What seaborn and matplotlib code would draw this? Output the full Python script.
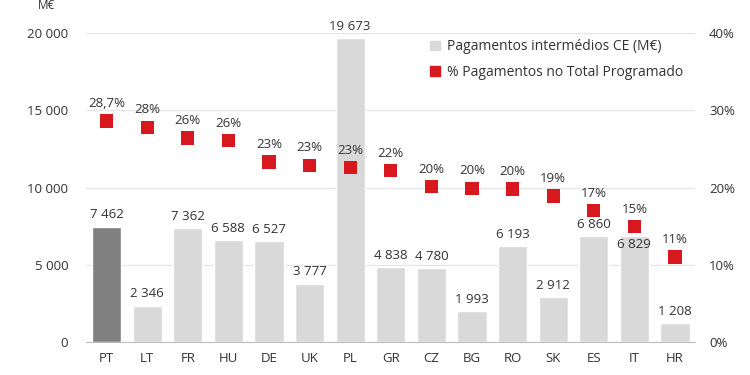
import pandas as pd
import matplotlib.pyplot as plt
import seaborn as sns
from matplotlib.patches import Patch

# Data
countries = ["PT", "LT", "FR", "HU", "DE", "UK", "PL", "GR", "CZ", "BG", "RO", "SK", "ES", "IT", "HR"]
payments = [7462, 2346, 7362, 6588, 6527, 3777, 19673, 4838, 4780, 1993, 6193, 2912, 6860, 6829, 1208]
payment_labels = ["7 462", "2 346", "7 362", "6 588", "6 527", "3 777", "19 673", "4 838",
                  "4 780", "1 993", "6 193", "2 912", "6 860", "6 829", "1 208"]
pct = [28.6, 27.8, 26.4, 26.1, 23.3, 22.9, 22.6, 22.2, 20.1, 19.9, 19.8, 18.9, 17.0, 14.9, 11.0]
pct_labels = ["28,7%", "28%", "26%", "26%", "23%", "23%", "23%", "22%", "20%", "20%",
              "20%", "19%", "17%", "15%", "11%"]

df = pd.DataFrame({"country": countries, "payments": payments, "pct": pct})

sns.set_style("white")
plt.rcParams["font.family"] = ["Open Sans", "DejaVu Sans"]

TXT = "#333333"
LIGHT = "#d9d9d9"
DARK = "#808080"
RED = "#d7191f"

fig = plt.figure(figsize=(7.5, 3.75), dpi=100)
ax = fig.add_axes([0.115, 0.088, 0.812, 0.824])

colors = [DARK] + [LIGHT] * (len(countries) - 1)
sns.barplot(data=df, x="country", y="payments", hue="country", palette=colors,
            legend=False, width=0.72, ax=ax, zorder=2)
ax.set_ylim(0, 20000)
ax.set_xlim(-0.5, len(countries) - 0.5)
ax.set_yticks([0, 5000, 10000, 15000, 20000])
ax.set_yticklabels(["0", "5 000", "10 000", "15 000", "20 000"])
ax.yaxis.grid(True, color="#e6e6e6", lw=1, zorder=0)
ax.set_axisbelow(True)
for s in ["top", "right", "left"]:
    ax.spines[s].set_visible(False)
ax.spines["bottom"].set_color("#bfbfbf")
ax.tick_params(axis="both", length=0, labelsize=9.5, colors=TXT)
ax.tick_params(axis="y", pad=13)
ax.tick_params(axis="x", pad=7)
ax.set_xlabel("")
ax.set_ylabel("")
ax.text(-0.08, 1.09, "M€", transform=ax.transAxes, fontsize=8.5, color=TXT,
        ha="left", va="center", clip_on=False)

ax2 = ax.twinx()
sns.scatterplot(data=df, x="country", y="pct", marker="s", s=90, color=RED,
                edgecolor="none", ax=ax2, zorder=3)
ax2.set_ylim(0, 40)
ax2.set_yticks([0, 10, 20, 30, 40])
ax2.set_yticklabels(["0%", "10%", "20%", "30%", "40%"])
ax2.tick_params(axis="y", length=0, labelsize=9.5, colors=TXT, pad=10)
ax2.set_ylabel("")
for s in ["top", "right", "left", "bottom"]:
    ax2.spines[s].set_visible(False)

# Value labels
for i, (v, lab) in enumerate(zip(payments, payment_labels)):
    if countries[i] == "IT":
        ax.text(i, v - 500, lab, ha="center", va="center", fontsize=9.5, color=TXT, zorder=5)
    else:
        ax.text(i, v + 350, lab, ha="center", va="bottom", fontsize=9.5, color=TXT, zorder=5)
for i, (p, lab) in enumerate(zip(pct, pct_labels)):
    ax2.text(i, p + 1.4, lab, ha="center", va="bottom", fontsize=9.5, color=TXT, zorder=5)

handles = [Patch(color=LIGHT, label="Pagamentos intermédios CE (M€)"),
           Patch(color=RED, label="% Pagamentos no Total Programado")]
ax2.legend(handles=handles, loc="upper right", bbox_to_anchor=(1.0, 1.02), frameon=False,
           fontsize=10, handlelength=0.7, handleheight=0.7, handletextpad=0.5,
           labelspacing=0.75, labelcolor=TXT)

fig.savefig("out.png", dpi=100)
